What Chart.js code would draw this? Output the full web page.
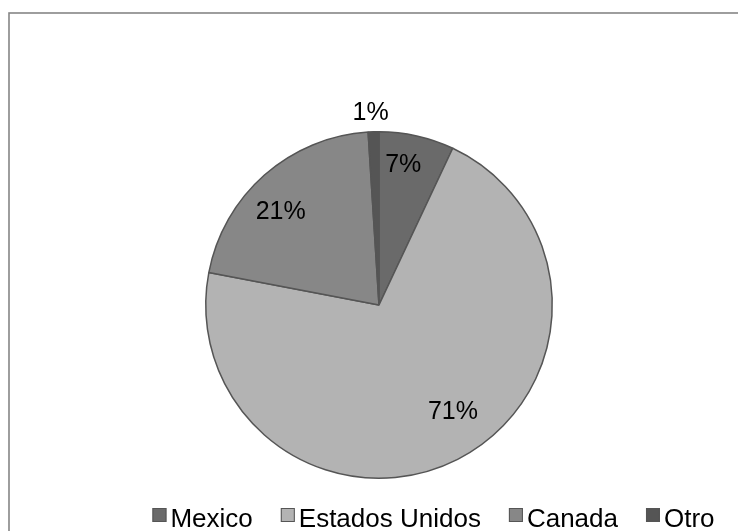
<!DOCTYPE html>
<html>
<head>
<meta charset="utf-8">
<script src="https://cdn.jsdelivr.net/npm/chart.js@4/dist/chart.umd.min.js"></script>
<style>
    html, body { margin: 0; padding: 0; background: #fff; }
    #wrap { position: relative; width: 738px; height: 531px; }
</style>
</head>
<body>
<div id="wrap"><canvas id="pieChart" width="738" height="531"></canvas></div>
<script>
const paises = ['Mexico', 'Estados Unidos', 'Canada', 'Otro'];
const porcentajes = [7, 71, 21, 1];
const colores = ['#6a6a6a', '#b3b3b3', '#878787', '#555555'];

// where each percentage sits: fraction along the slice and fraction of the radius
const labelAngle = [0.39, 0.47, 0.43, 0.3];
const labelRadius = [0.82, 0.75, 0.78, 1.11];

const fontName = '"Liberation Sans", Arial, sans-serif';

const frame = {
    id: 'frame',
    beforeDraw(chart) {
        const ctx = chart.ctx;
        ctx.save();
        ctx.strokeStyle = '#868686';
        ctx.lineWidth = 1.6;
        ctx.strokeRect(9, 13, 900, 900);
        ctx.restore();
    }
};

const pieLabels = {
    id: 'pieLabels',
    afterDatasetsDraw(chart) {
        const ctx = chart.ctx;
        const arcs = chart.getDatasetMeta(0).data;
        ctx.save();
        ctx.font = '25px ' + fontName;
        ctx.fillStyle = '#000';
        ctx.textAlign = 'center';
        ctx.textBaseline = 'middle';
        arcs.forEach((arc, i) => {
            const p = arc.getProps(['x', 'y', 'startAngle', 'endAngle', 'outerRadius'], true);
            const a = p.startAngle + (p.endAngle - p.startAngle) * labelAngle[i];
            const r = p.outerRadius * labelRadius[i];
            ctx.fillText(porcentajes[i] + '%', p.x + Math.cos(a) * r, p.y + Math.sin(a) * r);
        });
        ctx.restore();
    }
};

const bottomLegend = {
    id: 'bottomLegend',
    afterDraw(chart) {
        const ctx = chart.ctx;
        const box = 14, gapText = 4, gapItem = 28, centre = 433.5;
        ctx.save();
        ctx.font = '26px ' + fontName;
        const widths = paises.map(t => ctx.measureText(t).width);
        let total = widths.reduce((s, w) => s + box + gapText + w, 0) + gapItem * (paises.length - 1);
        let x = centre - total / 2;
        ctx.textBaseline = 'alphabetic';
        paises.forEach((t, i) => {
            ctx.fillStyle = colores[i];
            ctx.fillRect(x, 508, box, box);
            ctx.strokeStyle = '#555';
            ctx.lineWidth = 1;
            ctx.strokeRect(x + 0.5, 508.5, box - 1, box - 1);
            ctx.fillStyle = '#000';
            ctx.fillText(t, x + box + gapText, 527);
            x += box + gapText + widths[i] + gapItem;
        });
        ctx.restore();
    }
};

var ctx = document.getElementById('pieChart').getContext('2d');
var pieChart = new Chart(ctx, {
    type: 'pie',
    data: {
        labels: paises,
        datasets: [{
            data: porcentajes,
            backgroundColor: colores,
            borderColor: '#555555',
            borderWidth: 1.5
        }]
    },
    options: {
        responsive: false,
        animation: false,
        layout: {
            padding: { left: 205, right: 185, top: 131, bottom: 52 }
        },
        plugins: {
            legend: false,
            tooltip: false
        }
    },
    plugins: [frame, pieLabels, bottomLegend]
});
</script>
</body>
</html>
